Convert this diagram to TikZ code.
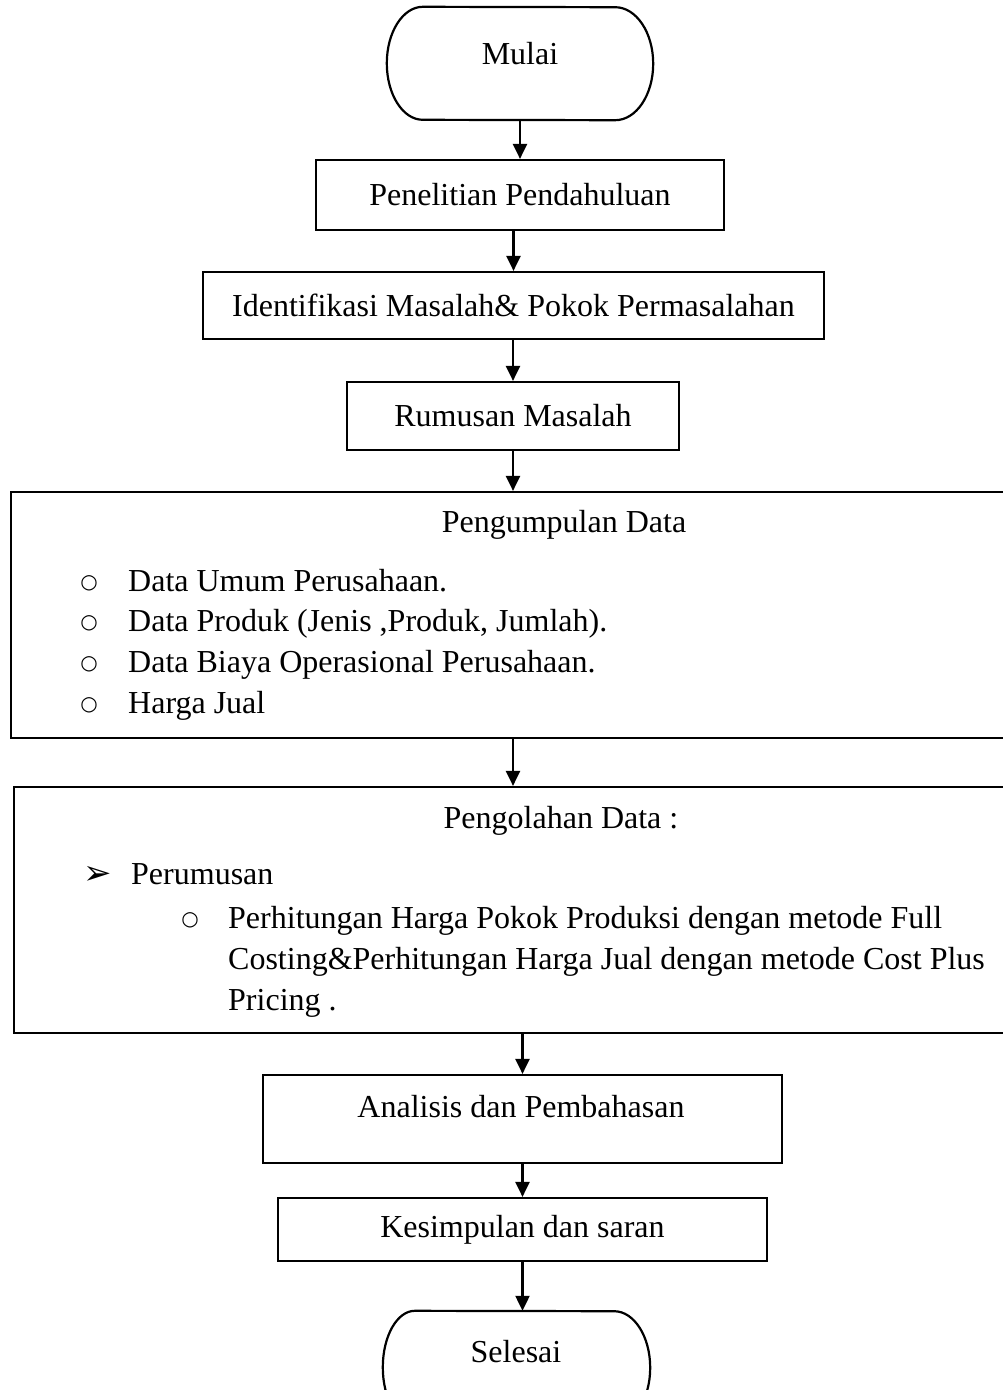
\documentclass[tikz,border=0pt]{standalone}
\usepackage{fontspec}
\setmainfont{Liberation Serif}
\newfontfamily\dejavuf{DejaVu Sans}
\usetikzlibrary{arrows.meta}
\newcommand{\txtfont}{\fontsize{32}{40}\selectfont}
\begin{document}
\begin{tikzpicture}[x=1pt,y=-1pt,
  box/.style={draw, line width=2.2pt, inner sep=0pt, font=\txtfont},
  shapebox/.style={inner sep=0pt},
  txt/.style={font=\txtfont, inner sep=0pt, anchor=base},
  itm/.style={font=\txtfont, inner sep=0pt, anchor=base west},
  bul/.style={font=\fontsize{20}{24}\selectfont\dejavuf, inner sep=0pt, anchor=center},
  arr/.style={-{Triangle[length=15pt,width=14pt]}, line width=2.2pt}]
\useasboundingbox (0,0) rectangle (1003,1390);
\clip (0,0) rectangle (1003,1390);
\fill[white] (0,0) rectangle (1003,1390);

% Mulai terminator
\node[shapebox, minimum width=266, minimum height=113] (mulai) at (520,63.5) {};
\draw[line width=2.2pt] ([xshift=36pt]mulai.north west) arc[start angle=270,end angle=90,x radius=36,y radius=56.5]
  -- ([xshift=-38pt]mulai.south east) arc[start angle=90,end angle=-90,x radius=38,y radius=56.5] -- cycle;
\node[txt] (tmulai) at (520,64) {Mulai};

\node[box, minimum width=408, minimum height=70] (pp) at (520,195) {Penelitian Pendahuluan};
\node[box, minimum width=621, minimum height=67] (im) at (513.5,305.5) {Identifikasi Masalah\& Pokok Permasalahan};
\node[box, minimum width=332, minimum height=68] (rm) at (513,416) {Rumusan Masalah};

% Pengumpulan Data
\node[box, minimum width=1004, minimum height=246] (pd) at (513,615) {};
\node[txt] (tpd) at (564,532) {Pengumpulan Data};
\node[bul] (b1) at (89,583) {○};
\node[itm] (i1) at (128,591) {Data Umum Perusahaan.};
\node[bul] (b2) at (89,623) {○};
\node[itm] (i2) at (128,631) {Data Produk (Jenis ,Produk, Jumlah).};
\node[bul] (b3) at (89,664) {○};
\node[itm] (i3) at (128,672) {Data Biaya Operasional Perusahaan.};
\node[bul] (b4) at (89,705) {○};
\node[itm] (i4) at (128,713) {Harga Jual};

% Pengolahan Data
\node[box, minimum width=1001, minimum height=246] (po) at (514.5,910) {};
\node[txt] (tpo) at (561,828) {Pengolahan Data :};
\node[font=\fontsize{34}{40}\selectfont\dejavuf, inner sep=0pt, anchor=center] (a1) at (98,875) {➢};
\node[itm] (j1) at (131,884) {Perumusan};
\node[bul] (c1) at (190,920) {○};
\node[itm] (k1) at (228,928) {Perhitungan Harga Pokok Produksi dengan metode Full};
\node[itm] (k2) at (228,969) {Costing\&Perhitungan Harga Jual dengan metode Cost Plus};
\node[itm] (k3) at (228,1010) {Pricing .};

\node[box, minimum width=519, minimum height=88] (an) at (522.5,1119) {};
\node[txt] (tan) at (521,1117) {Analisis dan Pembahasan};
\node[box, minimum width=489, minimum height=63] (ks) at (522.5,1229.5) {Kesimpulan dan saran};

% Selesai terminator
\node[shapebox, minimum width=267, minimum height=113] (sl) at (516.5,1367.5) {};
\draw[line width=2.2pt] ([xshift=32pt]sl.north west) arc[start angle=270,end angle=90,x radius=32,y radius=56.5]
  -- ([xshift=-36pt]sl.south east) arc[start angle=90,end angle=-90,x radius=36,y radius=56.5] -- cycle;
\node[txt] (tsl) at (516,1362) {Selesai};

% connectors
\draw[arr] (mulai.south) -- (pp.north);
\draw[arr] (im.north |- pp.south) -- (im.north);
\draw[arr] (rm.north |- im.south) -- (rm.north);
\draw[arr] (rm.south) -- (rm.south |- pd.north);
\draw[arr] (rm.south |- pd.south) -- (rm.south |- po.north);
\draw[arr] (an.north |- po.south) -- (an.north);
\draw[arr] (an.south) -- (ks.north);
\draw[arr] (ks.south) -- (ks.south |- sl.north);
\end{tikzpicture}
\end{document}
